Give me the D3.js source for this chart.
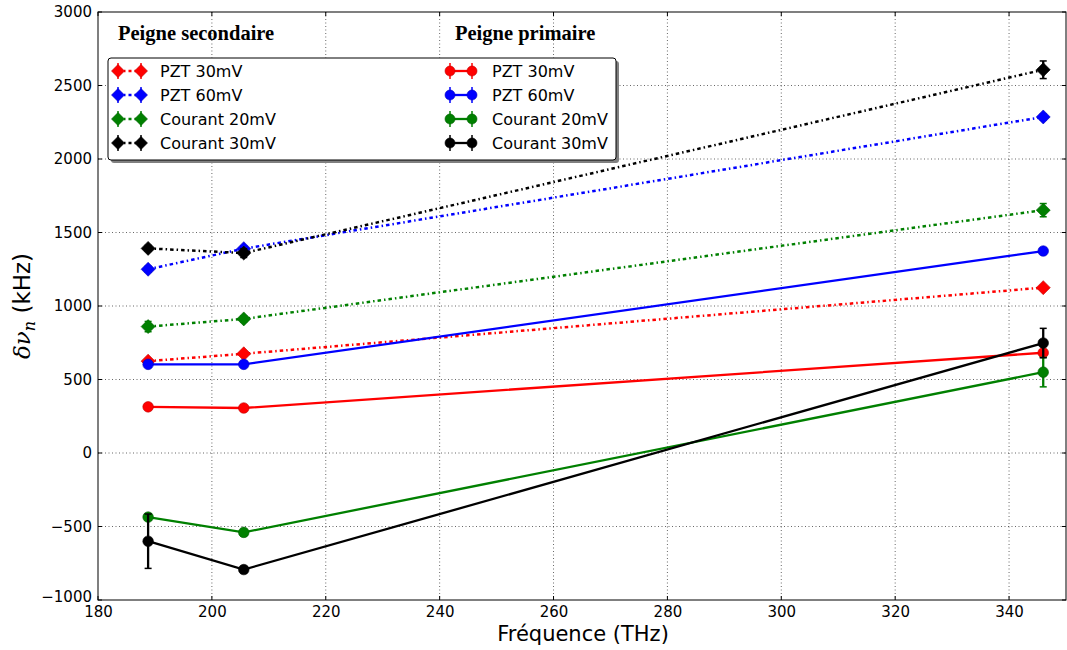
<!DOCTYPE html>
<html><head><meta charset="utf-8">
<script src="https://cdn.jsdelivr.net/npm/d3@7"></script>
<style>body{margin:0;background:#fff}svg{display:block}</style>
</head><body><svg id="c" width="1067" height="650"></svg>
<script>
// ---- data ----
const freqs = [188.8, 205.6, 346.0];
const seriesNames = ["PZT 30mV", "PZT 60mV", "Courant 20mV", "Courant 30mV"];
const seriesColors = ["#ff0000", "#0000ff", "#008000", "#000000"];
// Peigne secondaire (diamonds, dash-dot)
const secPZT30 = [625, 675, 1125];
const secPZT60 = [1250, 1390, 2286];
const secC20 = [860, 912, 1652];
const secC30 = [1392, 1360, 2607];
const secPZT30Err = [15, 15, 15];
const secPZT60Err = [20, 20, 20];
const secC20Err = [35, 20, 45];
const secC30Err = [20, 30, 60];
// Peigne primaire (circles, solid)
const primPZT30 = [314, 306, 682];
const primPZT60 = [603, 603, 1374];
const primC20 = [-436, -540, 550];
const primC30 = [-600, -793, 748];
const primPZT30Err = [10, 10, 15];
const primPZT60Err = [10, 10, 15];
const primC20Err = [20, 20, 100];
const primC30Err = [185, 20, 100];
const xTicks = [180, 200, 220, 240, 260, 280, 300, 320, 340];
const yTicks = [-1000, -500, 0, 500, 1000, 1500, 2000, 2500, 3000];
const titles = ["Peigne secondaire", "Peigne primaire"];

const secVals = [secPZT30, secPZT60, secC20, secC30];
const secErrs = [secPZT30Err, secPZT60Err, secC20Err, secC30Err];
const primVals = [primPZT30, primPZT60, primC20, primC30];
const primErrs = [primPZT30Err, primPZT60Err, primC20Err, primC30Err];

// ---- layout ----
const L = 98, R = 1066, T = 12, B = 600;
const svg = d3.select("#c");
const x = d3.scaleLinear().domain([180, 350]).range([L, R]);
const y = d3.scaleLinear().domain([-1000, 3000]).range([B, T]);
const tickFont = "'DejaVu Sans', sans-serif";

// grid
const grid = svg.append("g");
xTicks.filter(t => t > 180).forEach(t => grid.append("line")
  .attr("x1", x(t)).attr("x2", x(t)).attr("y1", T).attr("y2", B)
  .attr("stroke", "#000").attr("stroke-width", 0.6).attr("stroke-dasharray", "1,2.5"));
yTicks.filter(t => t > -1000 && t < 3000).forEach(t => grid.append("line")
  .attr("x1", L).attr("x2", R).attr("y1", y(t)).attr("y2", y(t))
  .attr("stroke", "#000").attr("stroke-width", 0.6).attr("stroke-dasharray", "1,2.5"));

// axes
const xAxis = d3.axisBottom(x).tickValues(xTicks).tickSize(0).tickPadding(6);
const gx = svg.append("g").attr("transform", `translate(0,${B})`).call(xAxis);
gx.select(".domain").remove();
gx.selectAll("text").attr("font-family", tickFont).attr("font-size", 15).attr("fill", "#000");
const yAxis = d3.axisLeft(y).tickValues(yTicks).tickSize(0).tickPadding(6)
  .tickFormat(d => d < 0 ? "\u2212" + Math.abs(d) : d);
const gy = svg.append("g").attr("transform", `translate(${L},0)`).call(yAxis);
gy.select(".domain").remove();
gy.selectAll("text").attr("font-family", tickFont).attr("font-size", 15).attr("fill", "#000")
  .attr("dy", d => d === -1000 ? "0.1em" : "0.32em");

// inward ticks on all sides
const tk = svg.append("g").attr("stroke", "#000").attr("stroke-width", 1);
xTicks.forEach(t => {
  tk.append("line").attr("x1", x(t)).attr("x2", x(t)).attr("y1", B).attr("y2", B - 4);
  tk.append("line").attr("x1", x(t)).attr("x2", x(t)).attr("y1", T).attr("y2", T + 4);
});
yTicks.forEach(t => {
  tk.append("line").attr("x1", L).attr("x2", L + 4).attr("y1", y(t)).attr("y2", y(t));
  tk.append("line").attr("x1", R).attr("x2", R - 4).attr("y1", y(t)).attr("y2", y(t));
});

// data
const plot = svg.append("g");
const dashSec = "3.5,3,1.5,3";
function diamond(g, cx, cy, col, s) {
  g.append("path").attr("d", `M${cx},${cy - s}L${cx + s},${cy}L${cx},${cy + s}L${cx - s},${cy}Z`)
    .attr("fill", col).attr("stroke", d3.color(col).darker(0.8)).attr("stroke-width", 0.6);
}
function circle(g, cx, cy, col, r) {
  g.append("circle").attr("cx", cx).attr("cy", cy).attr("r", r)
    .attr("fill", col).attr("stroke", d3.color(col).darker(0.8)).attr("stroke-width", 0.6);
}
function drawSeries(vals, errs, col, dashed, marker) {
  const g = plot.append("g");
  const line = d3.line().x((d, i) => x(freqs[i])).y(d => y(d));
  g.append("path").attr("d", line(vals)).attr("fill", "none").attr("stroke", col)
    .attr("stroke-width", dashed ? 2.5 : 2.3).attr("stroke-dasharray", dashed ? dashSec : null);
  vals.forEach((v, i) => {
    const cx = x(freqs[i]);
    g.append("line").attr("x1", cx).attr("x2", cx).attr("y1", y(v - errs[i])).attr("y2", y(v + errs[i]))
      .attr("stroke", col).attr("stroke-width", 2.3);
    [v - errs[i], v + errs[i]].forEach(e => g.append("line").attr("x1", cx - 3.5).attr("x2", cx + 3.5)
      .attr("y1", y(e)).attr("y2", y(e)).attr("stroke", col).attr("stroke-width", 1.5));
  });
  vals.forEach((v, i) => marker === "d" ? diamond(g, x(freqs[i]), y(v), col, 7) : circle(g, x(freqs[i]), y(v), col, 5.3));
}
secVals.forEach((v, k) => drawSeries(v, secErrs[k], seriesColors[k], true, "d"));
primVals.forEach((v, k) => drawSeries(v, primErrs[k], seriesColors[k], false, "o"));

// frame
svg.append("rect").attr("x", L).attr("y", T).attr("width", R - L).attr("height", B - T)
  .attr("fill", "none").attr("stroke", "#000").attr("stroke-width", 1);

// legend
const lg = svg.append("g");
lg.append("rect").attr("x", 111).attr("y", 61).attr("width", 508).attr("height", 102).attr("rx", 3)
  .attr("fill", "#808080");
lg.append("rect").attr("x", 108).attr("y", 58).attr("width", 508).attr("height", 102).attr("rx", 3)
  .attr("fill", "#fff").attr("stroke", "#000").attr("stroke-width", 1);
const cols = [{x0: 118, x1: 141, tx: 160, dashed: true, m: "d"}, {x0: 450, x1: 472, tx: 492, dashed: false, m: "o"}];
cols.forEach(c => {
  seriesNames.forEach((name, k) => {
    const yy = 71 + k * 24, col = seriesColors[k];
    lg.append("line").attr("x1", c.x0).attr("x2", c.x1).attr("y1", yy).attr("y2", yy)
      .attr("stroke", col).attr("stroke-width", 2.3).attr("stroke-dasharray", c.dashed ? "3,3,1.5,3" : null);
    [c.x0, c.x1].forEach(xx => {
      lg.append("line").attr("x1", xx).attr("x2", xx).attr("y1", yy - 8).attr("y2", yy + 8)
        .attr("stroke", col).attr("stroke-width", 1.5);
      c.m === "d" ? diamond(lg, xx, yy, col, 6.5) : circle(lg, xx, yy, col, 5);
    });
    lg.append("text").attr("x", c.tx).attr("y", yy + 6).attr("font-family", tickFont)
      .attr("font-size", 16).text(name);
  });
});
[[118, titles[0]], [455, titles[1]]].forEach(([tx, t]) => svg.append("text").attr("x", tx).attr("y", 40)
  .attr("font-family", "'Liberation Serif', serif").attr("font-weight", "bold").attr("font-size", 20.5).text(t));

// axis labels
svg.append("text").attr("x", (L + R) / 2 + 1).attr("y", 641).attr("text-anchor", "middle")
  .attr("font-family", tickFont).attr("font-size", 21).text("Fréquence (THz)");
const yl = svg.append("text").attr("transform", `translate(30,${(T + B) / 2}) rotate(-90)`)
  .attr("text-anchor", "middle").attr("font-size", 23);
yl.append("tspan").attr("font-family", "'DejaVu Serif', serif").attr("font-style", "italic").text("δν");
yl.append("tspan").attr("font-family", "'DejaVu Serif', serif").attr("font-style", "italic")
  .attr("font-size", 16).attr("dy", 5).text("n");
yl.append("tspan").attr("font-family", tickFont).attr("dy", -5).text(" (kHz)");
</script></body></html>
